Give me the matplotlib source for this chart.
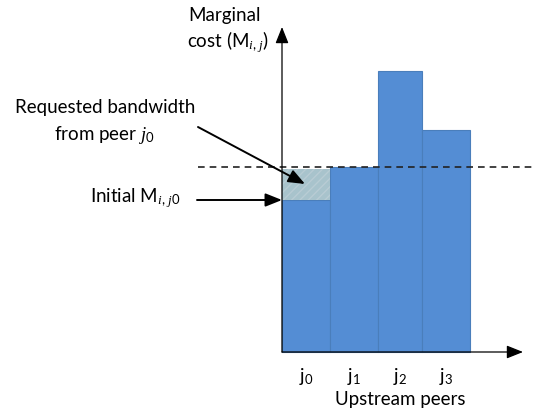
import numpy as np
import matplotlib
matplotlib.use("Agg")
import matplotlib.pyplot as plt

plt.rcParams["font.family"] = ["Lato", "DejaVu Sans"]
plt.rcParams["mathtext.fontset"] = "custom"
plt.rcParams["mathtext.rm"] = "Lato"
plt.rcParams["mathtext.it"] = "Liberation Serif:italic"

# data (arbitrary cost units)
peers = ["0", "1", "2", "3"]
initial_cost = [152, 185, 281, 222]
requested_extra = 31
cost_level = 185

# layout
bar_widths = [48, 48, 44, 48]
bar_color = "#548DD4"
edge_color = "#4A7EBB"
shade_color = "#A8C3CC"
fs = 13.5

fig = plt.figure(figsize=(5.34, 4.14), dpi=100)
ax = fig.add_axes([0, 0, 1, 1])
ax.set_xlim(-282, 252)
ax.set_ylim(-61, 353)
ax.axis("off")

lefts = np.concatenate([[0], np.cumsum(bar_widths)[:-1]])
centers = lefts + np.array(bar_widths) / 2

ax.bar(lefts, initial_cost, width=bar_widths, align="edge",
       color=bar_color, edgecolor=edge_color, linewidth=0.8, zorder=2)
ax.bar(lefts[0], requested_extra, width=bar_widths[0], bottom=initial_cost[0],
       align="edge", color=shade_color, edgecolor="#B8CCD4", hatch="////",
       linewidth=0, zorder=2)

# dashed level line
ax.plot([-84, 252], [cost_level, cost_level], ls=(0, (4, 3)), color="#222222",
        lw=1.2, zorder=3)

arrow = "-|>,head_length=1.0,head_width=0.4"

# axes with arrows
ax.annotate("", xy=(0, 325), xytext=(0, 0),
            arrowprops=dict(arrowstyle=arrow, color="black", lw=0.9,
                            shrinkA=0, shrinkB=0), zorder=4)
ax.annotate("", xy=(241, 0), xytext=(0, 0),
            arrowprops=dict(arrowstyle=arrow, color="black", lw=0.9,
                            shrinkA=0, shrinkB=0), zorder=4)

# tick labels
for c, p in zip(centers, peers):
    ax.text(c, -24, r"j$_{\mathrm{" + p + "}}$", ha="center", va="center",
            fontsize=fs)
ax.text(118, -47, "Upstream peers", ha="center", va="center", fontsize=fs)

# y label
ax.text(-57, 338, "Marginal", ha="center", va="center", fontsize=fs)
ax.text(-54, 311, r"cost (M$_{i,\,j}$)", ha="center", va="center", fontsize=fs)

# annotations
ax.text(-177, 245, "Requested bandwidth", ha="center", va="center", fontsize=fs)
ax.text(-178, 218, r"from peer $j_0$", ha="center", va="center", fontsize=fs)
ax.annotate("", xy=(23, 168), xytext=(-84, 225),
            arrowprops=dict(arrowstyle=arrow, color="black", lw=1.4,
                            shrinkA=0, shrinkB=0), zorder=5)

ax.text(-147, 155, r"Initial M$_{i,\,j0}$", ha="center", va="center", fontsize=fs)
ax.annotate("", xy=(0, initial_cost[0]), xytext=(-85, initial_cost[0]),
            arrowprops=dict(arrowstyle=arrow, color="black", lw=1.4,
                            shrinkA=0, shrinkB=0), zorder=5)

fig.savefig("out.png", dpi=100)
